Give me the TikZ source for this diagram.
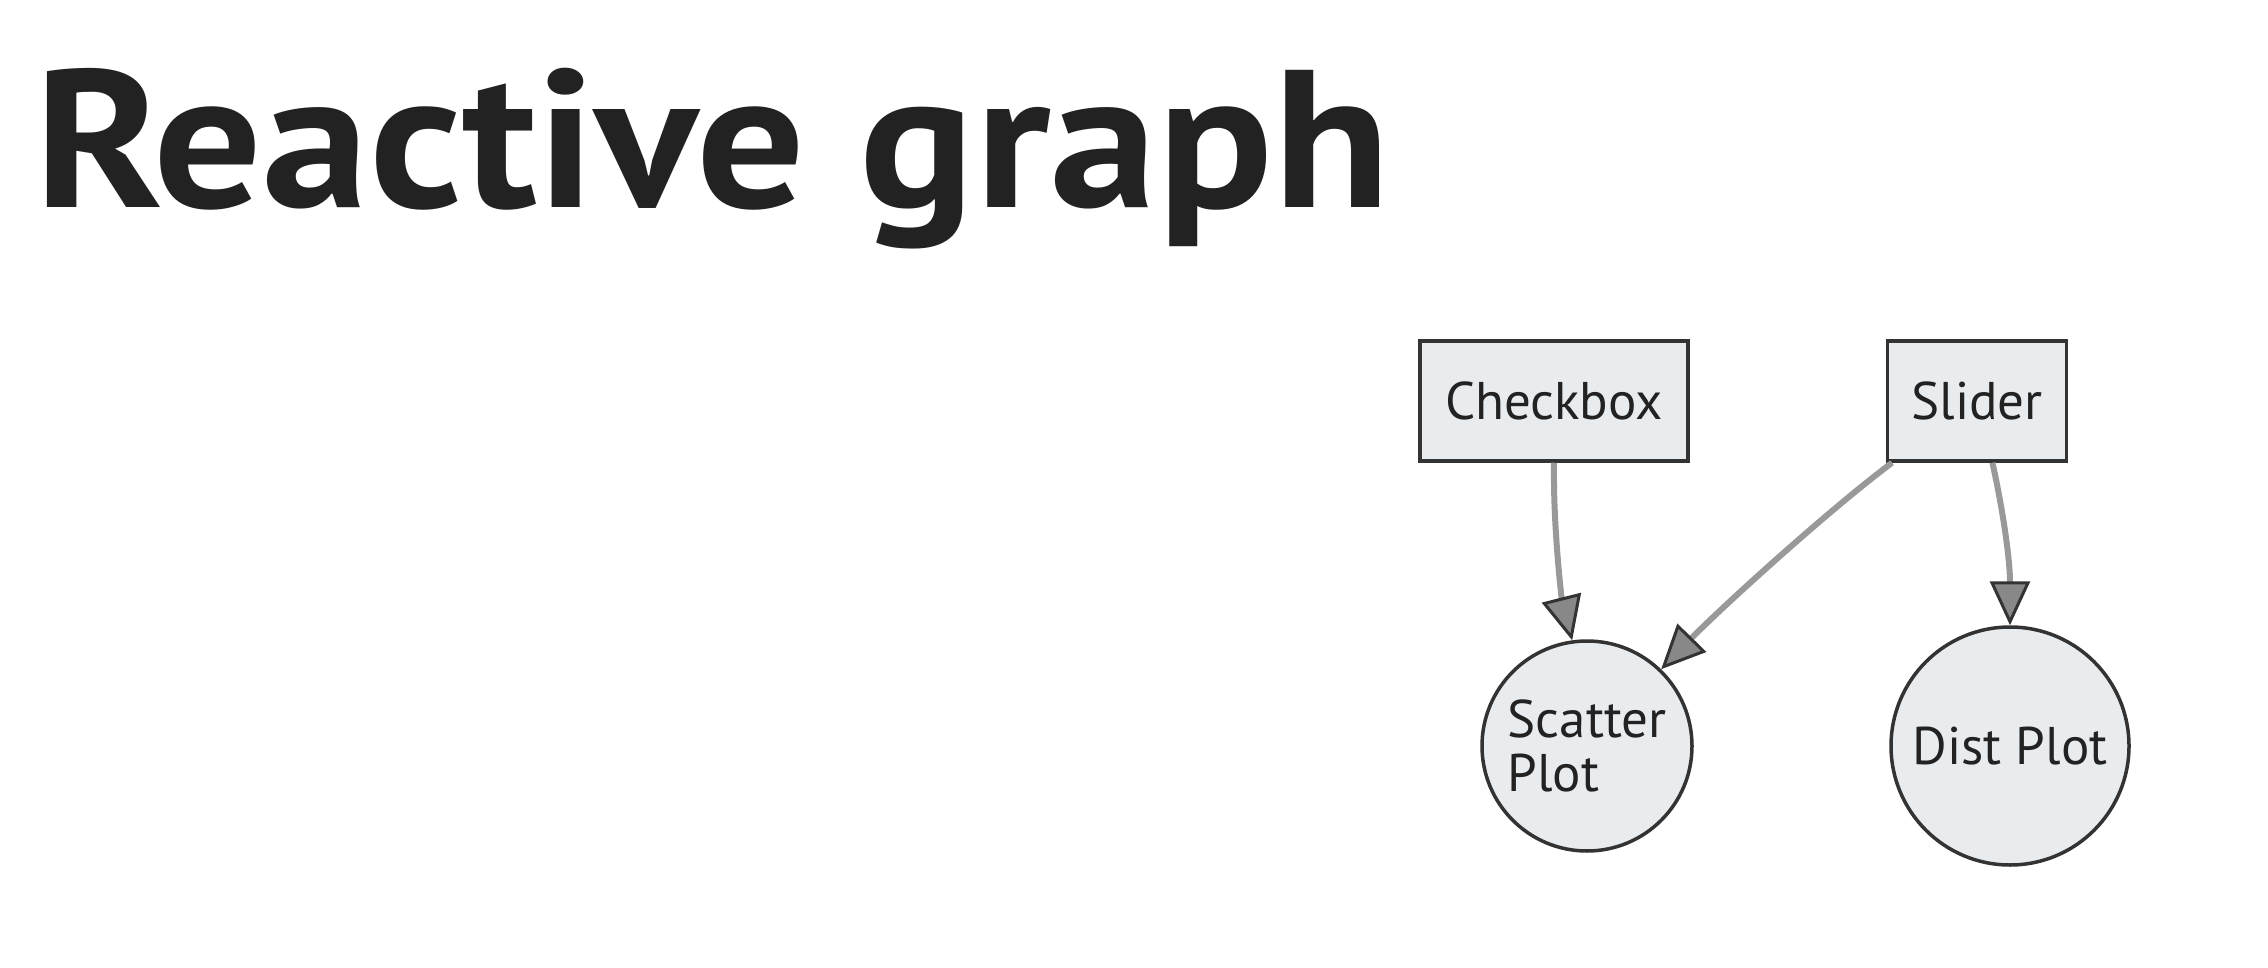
\documentclass[tikz,border=0pt]{standalone}
\usepackage{fontspec}
\setmainfont{PT Sans}
\usetikzlibrary{arrows.meta,calc}
\definecolor{nodefill}{HTML}{E9ECEF}
\definecolor{nodeline}{HTML}{333333}
\definecolor{edgecol}{HTML}{999999}
\definecolor{tipfill}{HTML}{888888}
\definecolor{titlecol}{HTML}{222222}
\tikzset{
  boxnode/.style={draw=nodeline,fill=nodefill,line width=3.5pt,minimum height=120pt,inner sep=0pt,font=\fontsize{53}{60}\selectfont,text=titlecol},
  circnode/.style={draw=nodeline,fill=nodefill,line width=3.5pt,circle,inner sep=0pt,font=\fontsize{53}{54}\selectfont,text=titlecol},
  edge/.style={draw=edgecol,line width=6pt,-{Triangle[length=44pt,width=40pt,line width=3pt,color=nodeline,fill=tipfill]}}
}
\begin{document}
\begin{tikzpicture}[x=1pt,y=-1pt]
\useasboundingbox (0,0) rectangle (2268,968);
\node[anchor=base west,inner sep=0pt,text=titlecol,xscale=1.097,font=\fontsize{196}{200}\selectfont\bfseries] (title) at (34,208) {Reactive graph};
\node[boxnode,minimum width=268pt] (chk) at (1554,401) {Checkbox};
\node[boxnode,minimum width=179pt] (sl) at (1977,401) {Slider};
\node[circnode,minimum size=210pt,align=left] (sc) at (1587,746) {Scatter\\Plot};
\node[circnode,minimum size=238pt] (dp) at (2010,746) {Dist Plot};
\draw[edge] (chk.south) .. controls (1553,530) and (1562,600) .. (sc.98);
\draw[edge] (sl.-144) .. controls (1825,513) and (1719,610) .. (sc.46);
\draw[edge] (sl.-76) .. controls (2003,510) and (2010,560) .. (dp.north);
\end{tikzpicture}
\end{document}
